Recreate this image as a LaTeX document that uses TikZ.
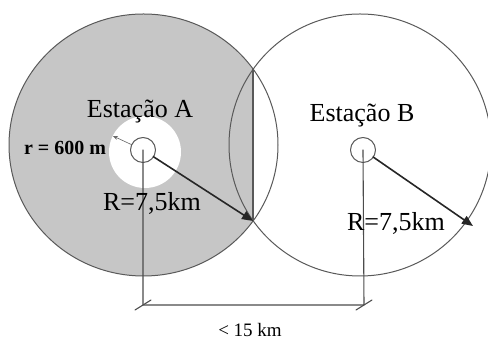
\documentclass[tikz,border=0pt]{standalone}
\usepackage{fontspec}
\setmainfont{Liberation Serif}
\usetikzlibrary{calc, arrows.meta}

\begin{document}
\begin{tikzpicture}[
    x=1pt, y=1pt,
    >={Triangle[length=11pt, width=9pt]},
    line join=round,
    line cap=round,
    contorno/.style={draw=black!65, line width=1pt},
    raio/.style={->, black!85, line width=1.6pt},
    cota/.style={black!70, line width=1.1pt},
    rotulo/.style={font=\fontsize{26}{29}\selectfont}
]

  % ==================== PARAMETROS ====================
  \def\rx{134.5}    % raio horizontal da cobertura A
  \def\ry{131}      % raio vertical da cobertura A
  \def\rB{131}      % raio da cobertura B
  \def\rp{12.5}     % raio das estacoes
  \def\xc{253}      % corda de interseccao
  \def\yC{37}       % altura da cota

  \useasboundingbox (0,0) rectangle (488,342);

  % ==================== 1. PONTOS ====================
  \coordinate (cA) at (143.5,197);   % centro da cobertura A
  \coordinate (cB) at (360,197);     % centro da cobertura B
  \coordinate (eA) at (143,192);     % estacao A
  \coordinate (eB) at (363,192);     % estacao B
  \coordinate (iTop) at (\xc,273);   % interseccao superior
  \coordinate (iBot) at (\xc,121);   % interseccao inferior
  \coordinate (pB) at (473,116);     % ponta do raio de B
  \coordinate (qA) at (143,\yC);
  \coordinate (qB) at (364,\yC);
  \coordinate (rr) at (113,206);     % borda do circulo r

  % ==================== 2. COBERTURA A (CINZA) ====================
  \begin{scope}
    \clip (0,0) rectangle (\xc,342);
    \fill[gray!45] (cA) ellipse ({\rx} and {\ry});
  \end{scope}
  \fill[white] (145,190) circle (36);

  % ==================== 3. CONTORNOS ====================
  \draw[contorno] (cA) ellipse ({\rx} and {\ry});
  \draw[contorno] (cB) circle (\rB);
  \draw[black!65, line width=1.6pt] (iTop) -- (iBot);

  % ==================== 4. ESTACOES ====================
  \draw[contorno, fill=white] (eA) circle (\rp);
  \draw[contorno, fill=white] (eB) circle (\rp);

  % raio r = 600 m
  \draw[-{Stealth[length=5pt, width=4pt]}, black!60, line width=0.6pt]
    ($(eA)!\rp pt!(rr)$) -- (rr);

  % ==================== 5. COTA ====================
  \draw[cota] (eA) -- (qA) -- (qB) -- (eB);
  \foreach \p in {qA, qB}{
      \draw[cota] ($(\p)+(-8,-5)$) -- ($(\p)+(8,5)$);
  }

  % ==================== 6. RAIOS R ====================
  \draw[raio] ($(eA)!\rp pt!(iBot)$) -- (iBot);
  \draw[raio] ($(eB)!\rp pt!(pB)$) -- (pB);

  % ==================== 7. ROTULOS ====================
  \node[rotulo] (lblA) at (140,230) {Estação A};
  \node[rotulo] (lblB) at (362,226) {Estação B};
  \node[rotulo] (raioA) at (152,139) {R=7,5km};
  \node[rotulo] (raioB) at (396,119) {R=7,5km};
  \node[font=\fontsize{20}{22}\selectfont\bfseries] (rmin) at (65,194) {r = 600 m};
  \node[font=\fontsize{19}{22}\selectfont, inner sep=1pt] (dist) at (250,12) {< 15 km};

\end{tikzpicture}
\end{document}
